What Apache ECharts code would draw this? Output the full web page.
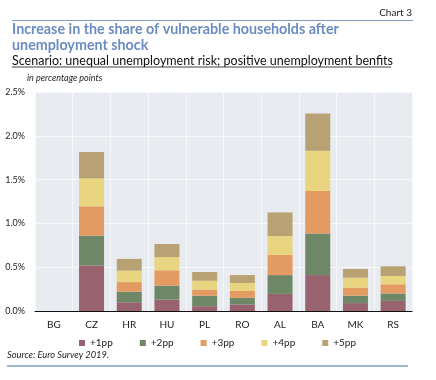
<!DOCTYPE html>
<html><head><meta charset="utf-8">
<script src="https://cdn.jsdelivr.net/npm/echarts@6/dist/echarts.min.js"></script>
<style>html,body{margin:0;padding:0;background:#fff}#c{width:436px;height:380px}</style>
</head><body><div id="c"></div>
<script>
const categories = ['BG','CZ','HR','HU','PL','RO','AL','BA','MK','RS'];
const seriesNames = ['+1pp','+2pp','+3pp','+4pp','+5pp'];
const pp1 = [0, 0.52, 0.10, 0.13, 0.055, 0.075, 0.195, 0.41, 0.09, 0.115];
const pp2 = [0, 0.34, 0.12, 0.16, 0.12, 0.075, 0.215, 0.475, 0.085, 0.085];
const pp3 = [0, 0.335, 0.11, 0.175, 0.07, 0.08, 0.23, 0.485, 0.09, 0.105];
const pp4 = [0, 0.32, 0.13, 0.15, 0.10, 0.09, 0.215, 0.46, 0.115, 0.095];
const pp5 = [0, 0.30, 0.135, 0.15, 0.10, 0.09, 0.27, 0.425, 0.10, 0.11];
const yTicks = [0, 0.5, 1.0, 1.5, 2.0, 2.5];
const colors = ['#98636f','#6e8767','#e39b61','#e9d47f','#b8a172'];
const FONT = 'Lato';
const values = [pp1, pp2, pp3, pp4, pp5];

const chart = echarts.init(document.getElementById('c'), null, {renderer:'canvas'});
chart.setOption({
  animation: false,
  textStyle: {fontFamily: FONT},
  color: colors,
  title: [
    {text: 'Chart 3', right: 24, top: 8, padding: 0, textStyle: {fontFamily: FONT, fontSize: 10, fontWeight: 'normal', color: '#222'}},
    {text: 'Increase in the share of vulnerable households after\nunemployment shock', left: 12, top: 22, padding: 0,
     textStyle: {fontFamily: FONT, fontSize: 14.3, fontWeight: 'bold', color: '#6b8cc0', lineHeight: 15.5}},
    {text: 'Scenario: unequal unemployment risk; positive unemployment benfits', left: 12, top: 54, padding: 0,
     textStyle: {fontFamily: FONT, fontSize: 12.5, fontWeight: 'normal', color: '#111', lineHeight: 14}},
    {text: 'in percentage points', left: 27, top: 74, padding: 0,
     textStyle: {fontFamily: FONT, fontSize: 9, fontStyle: 'italic', fontWeight: 'normal', color: '#222'}},
    {text: 'Source: Euro Survey 2019.', left: 7, top: 350, padding: 0,
     textStyle: {fontFamily: FONT, fontSize: 9.3, fontStyle: 'italic', fontWeight: 'normal', color: '#222'}}
  ],
  graphic: [
    {type: 'line', shape: {x1: 12, y1: 20.5, x2: 413, y2: 20.5}, style: {stroke: '#7f9cc6', lineWidth: 1}},
    {type: 'line', shape: {x1: 12, y1: 67, x2: 391, y2: 67}, style: {stroke: '#111', lineWidth: 0.8}},
    {type: 'line', shape: {x1: 7, y1: 366, x2: 408, y2: 366}, style: {stroke: '#7f9cc6', lineWidth: 1.5}}
  ],
  legend: {
    data: seriesNames, top: 333, left: 74, icon: 'rect', itemWidth: 6, itemHeight: 6, itemGap: 27,
    textStyle: {fontFamily: FONT, fontSize: 10, color: '#222'}
  },
  grid: {left: 35, right: 24, top: 92, bottom: 69, show: true, backgroundColor: '#e8ebf0', borderWidth: 0},
  xAxis: {
    type: 'category', data: categories,
    axisLine: {lineStyle: {color: '#111', width: 1.2}},
    axisTick: {show: false},
    axisLabel: {fontFamily: FONT, fontSize: 10, color: '#222', margin: 9},
    splitLine: {show: true, lineStyle: {color: '#f6f7f9', width: 1}}
  },
  yAxis: {
    type: 'value', min: 0, max: 2.5, interval: 0.5,
    axisLine: {show: false}, axisTick: {show: false},
    axisLabel: {fontFamily: FONT, fontSize: 9, color: '#222', margin: 10, formatter: v => v.toFixed(1) + '%'},
    splitLine: {lineStyle: {color: '#f6f7f9', width: 1}}
  },
  series: seriesNames.map((n, i) => ({
    name: n, type: 'bar', stack: 'total', data: values[i], barWidth: 25,
    itemStyle: {color: colors[i]}
  }))
});
</script></body></html>
